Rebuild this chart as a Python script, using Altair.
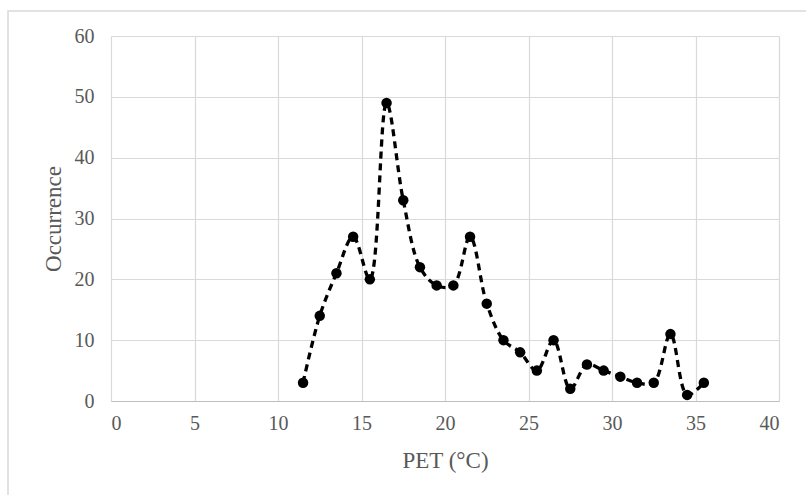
import altair as alt
import pandas as pd

pet = [11.5, 12.5, 13.5, 14.5, 15.5, 16.5, 17.5, 18.5, 19.5, 20.5, 21.5, 22.5,
       23.5, 24.5, 25.5, 26.5, 27.5, 28.5, 29.5, 30.5, 31.5, 32.5, 33.5, 34.5, 35.5]
occurrence = [3, 14, 21, 27, 20, 49, 33, 22, 19, 19, 27, 16,
              10, 8, 5, 10, 2, 6, 5, 4, 3, 3, 11, 1, 3]
x_ticks = [0, 5, 10, 15, 20, 25, 30, 35, 40]
y_ticks = [0, 10, 20, 30, 40, 50, 60]

df = pd.DataFrame({"PET": pet, "Occurrence": occurrence})

FONT = "Liberation Serif"
GRAY = "#595959"

x = alt.X("PET:Q", scale=alt.Scale(domain=[0, 40], nice=False, zero=False),
          axis=alt.Axis(values=x_ticks, title="PET (°C)", grid=True, ticks=False,
                        domain=True, domainColor="#bfbfbf", domainWidth=1.2,
                        labelPadding=12, titlePadding=16))
y = alt.Y("Occurrence:Q", scale=alt.Scale(domain=[0, 60], nice=False),
          axis=alt.Axis(values=y_ticks, title="Occurrence", grid=True, ticks=False,
                        domain=False, labelPadding=17, titlePadding=9))

border = alt.Chart(pd.DataFrame({"a": [0]})).mark_rect(
    fill=None, stroke="#d9d9d9", strokeWidth=1.5, clip=False
).encode(x=alt.value(-103), x2=alt.value(720), y=alt.value(-25), y2=alt.value(480))

line = alt.Chart(df).mark_line(
    color="black", strokeWidth=3.3, strokeDash=[7, 5], interpolate="catmull-rom"
).encode(x=x, y=y)

points = alt.Chart(df).mark_circle(color="black", size=110, opacity=1).encode(x=x, y=y)

chart = alt.layer(border, line, points).properties(
    width=668, height=365,
    autosize=alt.AutoSizeParams(type="none"),
    padding={"left": 111, "top": 36, "right": 27, "bottom": 94},
    background="white",
).configure_view(stroke=None).configure_axis(
    labelFont=FONT, titleFont=FONT, labelColor=GRAY, titleColor=GRAY,
    labelFontSize=20, titleFontSize=23, titleFontWeight="normal",
    gridColor="#d9d9d9", gridWidth=1.2,
)

chart.save("out.html", embed_options={"renderer": "svg", "actions": False})
